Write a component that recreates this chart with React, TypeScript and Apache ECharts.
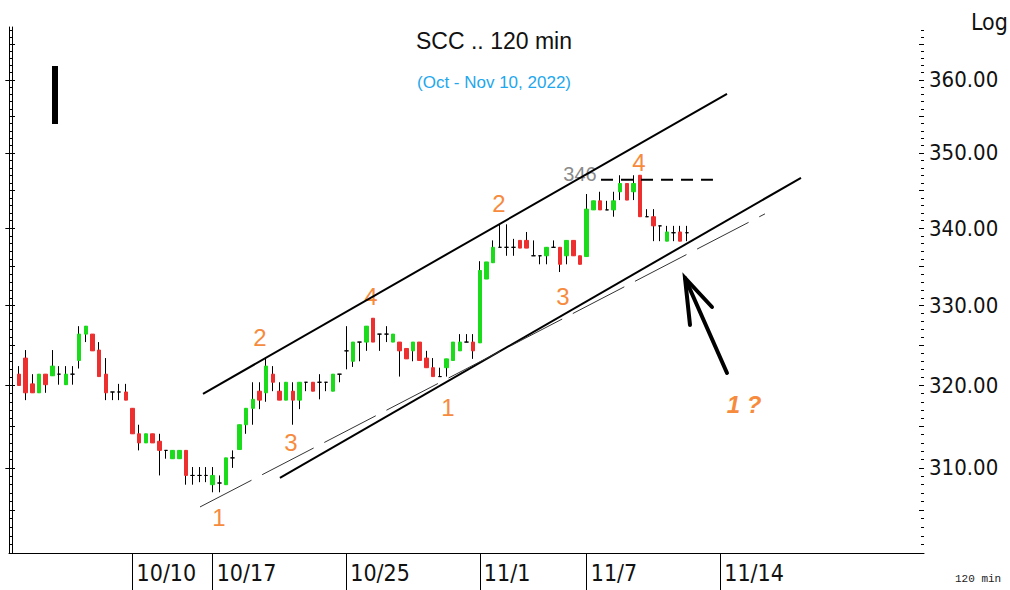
import React, { useEffect, useRef } from "react";
import * as echarts from "echarts";

// ---- categories (120-min bars, 4 per trading day) ----
const tradingDays = [
  "10/3", "10/4", "10/5", "10/6", "10/7", "10/10", "10/11", "10/12",
  "10/17", "10/18", "10/19", "10/20", "10/21", "10/25", "10/26", "10/27",
  "10/28", "10/31", "11/1", "11/2", "11/3", "11/4", "11/7", "11/8", "11/9",
  "11/10", "11/11", "11/14", "11/15", "11/16", "11/17", "11/18", "11/21",
  "11/22", "11/23",
];
const barsPerDay = 4;
const firstBar = 2;
const barCount = 137;
const dataOffset = 1;
const labelledDays = ["10/10", "10/17", "10/25", "11/1", "11/7", "11/14"];

// ---- OHLC values ----
const opens = [
  321.4, 323.4, 320.2, 319.1, 321.4, 321.2, 321.4, 320.1, 321.4, 323.1,
  326.4, 326.4, 324.4, 321.4, 319.2, 319.2, 319.2, 317.2, 314.1, 313.0,
  314.1, 313.2, 312.1, 311.1, 311.1, 312.1, 309.1, 309.1, 309.1, 308.0,
  308.2, 308.0, 311.2, 312.2, 315.2, 317.2, 319.3, 319.1, 321.4, 319.3,
  318.2, 319.3, 318.2, 320.4, 320.4, 320.4, 320.4, 319.3, 321.4, 324.3,
  323.0, 325.4, 325.4, 328.4, 326.4, 326.4, 325.4, 325.4, 324.6, 324.3,
  325.4, 323.4, 322.2, 321.1, 322.2, 323.1, 324.3, 325.4, 325.4, 325.3,
  333.4, 335.5, 337.5, 337.5, 337.5, 338.4, 338.4, 336.4, 336.4, 336.4,
  337.5, 337.5, 336.4, 338.4, 336.4, 336.3, 342.4, 343.6, 342.4, 342.4,
  344.8, 345.9, 344.8, 347.0, 341.5, 341.5, 340.3, 338.3, 339.4, 339.5,
  339.4,
];
const closes = [
  320.0, 319.1, 319.1, 321.4, 320.1, 322.4, 321.4, 321.4, 321.4, 326.4,
  327.4, 324.3, 321.1, 319.1, 319.2, 319.2, 318.2, 314.1, 313.0, 314.1,
  313.0, 312.1, 312.1, 312.1, 312.1, 309.1, 309.1, 309.1, 309.1, 309.1,
  308.2, 311.2, 311.2, 315.2, 317.2, 318.3, 318.2, 322.4, 320.4, 318.2,
  320.4, 318.2, 320.4, 320.4, 319.3, 320.4, 320.4, 321.4, 321.4, 324.3,
  325.4, 325.4, 327.4, 325.4, 326.4, 326.4, 326.4, 324.3, 323.3, 325.4,
  323.1, 322.2, 321.1, 321.1, 323.3, 325.4, 325.4, 325.4, 324.3, 334.5,
  335.6, 337.5, 337.5, 337.5, 337.5, 337.4, 337.4, 336.4, 336.4, 337.5,
  337.5, 335.3, 338.4, 336.4, 335.3, 342.5, 343.6, 342.4, 342.4, 343.6,
  345.9, 343.7, 345.9, 341.5, 341.5, 340.3, 340.3, 339.5, 339.4, 338.3,
  339.4,
];
const lows = [
  320.0, 318.2, 319.1, 319.1, 319.1, 321.2, 320.1, 320.1, 320.1, 322.1,
  325.4, 324.3, 321.1, 318.2, 318.2, 318.2, 318.2, 314.1, 312.1, 313.0,
  313.0, 309.1, 311.1, 311.1, 311.1, 308.0, 308.0, 308.3, 308.3, 307.1,
  307.1, 308.0, 310.0, 312.2, 314.1, 315.2, 317.1, 318.0, 319.3, 318.2,
  318.2, 315.2, 317.1, 319.3, 319.3, 318.3, 319.3, 319.3, 320.4, 322.0,
  322.3, 323.0, 324.3, 325.4, 324.3, 325.4, 325.4, 321.1, 323.3, 323.0,
  323.1, 322.2, 321.1, 321.1, 321.1, 323.1, 324.3, 325.4, 323.3, 325.3,
  333.4, 335.5, 337.5, 336.4, 336.4, 337.4, 337.4, 336.4, 335.3, 335.3,
  337.5, 334.3, 335.3, 336.4, 335.3, 336.3, 342.4, 342.4, 342.4, 341.5,
  343.7, 343.7, 343.7, 341.5, 341.5, 338.3, 338.3, 338.3, 338.3, 338.3,
  338.3,
];
const highs = [
  322.4, 324.4, 321.4, 321.4, 321.4, 324.4, 322.4, 322.4, 322.4, 327.4,
  327.4, 326.4, 325.4, 323.4, 319.2, 320.2, 320.2, 317.2, 315.2, 314.1,
  314.1, 314.1, 312.1, 312.1, 312.1, 312.1, 310.1, 310.1, 310.1, 310.1,
  309.1, 311.2, 312.1, 315.2, 317.2, 320.4, 320.4, 323.5, 322.4, 320.4,
  320.4, 320.4, 320.4, 320.4, 320.4, 321.4, 320.4, 321.4, 321.4, 327.4,
  325.4, 325.4, 327.4, 328.4, 326.4, 327.4, 326.4, 325.4, 324.6, 325.4,
  325.4, 324.3, 323.4, 322.2, 323.3, 325.4, 326.4, 326.4, 326.4, 335.7,
  335.6, 338.4, 340.5, 340.5, 338.6, 338.4, 339.5, 338.4, 336.4, 337.5,
  338.4, 337.5, 338.4, 338.4, 336.4, 344.5, 343.6, 344.8, 343.6, 344.8,
  347.0, 345.9, 347.0, 347.0, 342.5, 342.5, 340.3, 340.3, 340.3, 340.3,
  340.3,
];

// ---- axis tick values ----
const priceLabels = [310, 320, 330, 340, 350, 360];
const yMin = 300;
const yMax = 367.4;

// ---- trend lines: [bar position, price] ----
const upperChannel = [[28.55, 318.97], [107.0, 358.07]];
const lowerChannel = [[40.07, 308.8], [118.08, 346.66]];
const innerDashed = [[28.1, 305.37], [112.69, 341.88]];
const level346 = [[88.14, 346.4], [104.9, 346.4]];

const GREEN = "#1adc1a";
const RED = "#ee2f2f";
const ORANGE = "#f78b3d";
const AXIS_FONT = "'DejaVu Sans Condensed', 'DejaVu Sans', sans-serif";

const allBars = tradingDays.flatMap((d) =>
  Array.from({ length: barsPerDay }, (_, i) => `${d} #${i + 1}`)
);
const categories = allBars.slice(firstBar, firstBar + barCount);

const isLabelled = (index: number) => {
  const c = categories[index];
  if (!c) return false;
  const [day, bar] = c.split(" ");
  return bar === "#1" && labelledDays.includes(day);
};

const unitTicks: number[] = [];
for (let v = 301; v <= 367; v++) unitTicks.push(v);
const fiveTicks = unitTicks.filter((v) => v % 5 === 0);

const candleData = categories.map((_, k) => {
  const i = k - dataOffset;
  if (i < 0 || i >= opens.length) return "-";
  return [opens[i], closes[i], lows[i], highs[i]];
});
const bodyData = categories.map((_, k) => {
  const i = k - dataOffset;
  if (i < 0 || i >= opens.length) return "-";
  const lo = Math.min(opens[i], closes[i]);
  const hi = Math.max(opens[i], closes[i]);
  return [opens[i], closes[i], lo, hi];
});

const hiddenLog = {
  type: "log",
  logBase: 10,
  min: yMin,
  max: yMax,
  gridIndex: 0,
  splitLine: { show: false },
  axisLabel: { show: false },
  axisLine: { show: false },
};

const orangeText = (text: string, x: number, y: number) => ({
  type: "text",
  x,
  y,
  style: {
    text,
    fill: ORANGE,
    fontSize: 24,
    fontFamily: "'Liberation Sans', Arial, sans-serif",
    align: "center",
    verticalAlign: "middle",
  },
});

export default function App() {
  const ref = useRef<HTMLDivElement>(null);

  useEffect(() => {
    if (!ref.current) return;
    const chart = echarts.init(ref.current, undefined, { renderer: "svg" });

    const lineSeries = (data: number[][], width: number, type: any, color: string) => ({
      type: "line",
      xAxisIndex: 1,
      yAxisIndex: 0,
      data,
      symbol: "none",
      silent: true,
      lineStyle: { color, width, type },
      z: 5,
    });

    chart.setOption({
      animation: false,
      backgroundColor: "#ffffff",
      grid: { left: 9, right: 86, top: 27, bottom: 37, containLabel: false },
      xAxis: [
        {
          type: "category",
          data: categories,
          boundaryGap: true,
          axisLine: { show: true, lineStyle: { color: "#000", width: 1 } },
          axisTick: {
            show: true,
            interval: (i: number) => isLabelled(i),
            alignWithLabel: true,
            length: 37,
            lineStyle: { color: "#000", width: 1 },
          },
          axisLabel: {
            interval: (i: number) => isLabelled(i),
            formatter: (v: string) => v.split(" ")[0],
            align: "left",
            verticalAlign: "middle",
            margin: 20,
            padding: [0, 0, 0, 4],
            fontSize: 23,
            fontFamily: AXIS_FONT,
            color: "#111",
          },
          splitLine: { show: false },
        },
        {
          type: "value",
          min: -0.5,
          max: barCount - 0.5,
          show: false,
          gridIndex: 0,
        },
      ],
      yAxis: [
        {
          ...hiddenLog,
          position: "right",
          axisLine: { show: true, lineStyle: { color: "#000", width: 1 } },
          axisTick: {
            show: true,
            inside: true,
            length: 7,
            customValues: priceLabels,
            lineStyle: { color: "#000" },
          },
          axisLabel: {
            show: true,
            customValues: priceLabels,
            formatter: (v: number) => Number(v).toFixed(2),
            fontSize: 22,
            fontFamily: AXIS_FONT,
            color: "#111",
            margin: 5,
          },
        },
        {
          ...hiddenLog,
          position: "right",
          axisTick: { show: true, inside: true, length: 3, customValues: unitTicks, lineStyle: { color: "#000" } },
        },
        {
          ...hiddenLog,
          position: "right",
          axisTick: { show: true, inside: true, length: 5, customValues: fiveTicks, lineStyle: { color: "#000" } },
        },
        {
          ...hiddenLog,
          position: "left",
          axisLine: { show: true, lineStyle: { color: "#000", width: 1 } },
          axisTick: { show: true, inside: true, length: 3, customValues: unitTicks, lineStyle: { color: "#000" } },
        },
        {
          ...hiddenLog,
          position: "left",
          axisTick: { show: true, inside: true, length: 6, customValues: fiveTicks, lineStyle: { color: "#000" } },
        },
      ],
      series: [
        {
          name: "wicks",
          type: "candlestick",
          xAxisIndex: 0,
          yAxisIndex: 0,
          data: candleData,
          barWidth: 1,
          silent: true,
          itemStyle: {
            color: "#000",
            color0: "#000",
            borderColor: "#000",
            borderColor0: "#000",
            borderColorDoji: "#000",
            borderWidth: 1,
          },
          z: 2,
        },
        {
          name: "SCC",
          type: "candlestick",
          xAxisIndex: 0,
          yAxisIndex: 0,
          data: bodyData,
          barWidth: 4,
          silent: true,
          itemStyle: {
            color: GREEN,
            color0: RED,
            borderColor: GREEN,
            borderColor0: RED,
            borderColorDoji: "#000",
            borderWidth: 1,
          },
          z: 3,
        },
        lineSeries(upperChannel, 2, "solid", "#000"),
        lineSeries(lowerChannel, 2, "solid", "#000"),
        lineSeries(innerDashed, 1, [58, 12], "#333"),
        lineSeries(level346, 2, [12, 8], "#000"),
      ],
      graphic: [
        {
          type: "text",
          x: 494,
          y: 41,
          style: {
            text: "SCC .. 120 min",
            fill: "#111",
            fontSize: 23,
            fontFamily: "'Liberation Sans', Arial, sans-serif",
            align: "center",
            verticalAlign: "middle",
          },
        },
        {
          type: "text",
          x: 494,
          y: 82,
          style: {
            text: "(Oct - Nov 10, 2022)",
            fill: "#1ea7ee",
            fontSize: 17,
            fontFamily: "'Liberation Sans', Arial, sans-serif",
            align: "center",
            verticalAlign: "middle",
          },
        },
        {
          type: "text",
          x: 971,
          y: 22,
          style: {
            text: "Log",
            fill: "#111",
            fontSize: 23,
            fontFamily: AXIS_FONT,
            align: "left",
            verticalAlign: "middle",
          },
        },
        {
          type: "text",
          x: 955,
          y: 579,
          style: {
            text: "120 min",
            fill: "#222",
            fontSize: 11,
            fontFamily: "'Liberation Mono', monospace",
            align: "left",
            verticalAlign: "middle",
          },
        },
        {
          type: "rect",
          shape: { x: 52, y: 66, width: 6, height: 58 },
          style: { fill: "#000" },
        },
        {
          type: "text",
          x: 580,
          y: 174,
          style: {
            text: "346",
            fill: "#8a8a8a",
            fontSize: 20,
            fontFamily: "'Liberation Sans', Arial, sans-serif",
            align: "center",
            verticalAlign: "middle",
          },
        },
        orangeText("1", 219, 517),
        orangeText("2", 260, 337),
        orangeText("3", 291, 442),
        orangeText("4", 371, 296),
        orangeText("1", 448, 407),
        orangeText("2", 499, 203),
        orangeText("3", 563, 296),
        orangeText("4", 639, 162),
        {
          type: "text",
          x: 744,
          y: 404,
          style: {
            text: "1 ?",
            fill: ORANGE,
            fontSize: 24,
            fontWeight: "bold",
            fontStyle: "italic",
            fontFamily: "'Liberation Sans', Arial, sans-serif",
            align: "center",
            verticalAlign: "middle",
          },
        },
        {
          type: "polyline",
          shape: { points: [[727, 373], [685, 278]] },
          style: { stroke: "#000", lineWidth: 4, lineCap: "round", fill: null },
        },
        {
          type: "polyline",
          shape: { points: [[690, 325], [685, 278], [712, 307]] },
          style: { stroke: "#000", lineWidth: 4, lineCap: "round", lineJoin: "miter", fill: null },
        },
      ],
    });

    return () => chart.dispose();
  }, []);

  return (
    <div
      ref={ref}
      style={{ position: "absolute", left: 0, top: 0, width: 1010, height: 590, background: "#fff" }}
    />
  );
}
